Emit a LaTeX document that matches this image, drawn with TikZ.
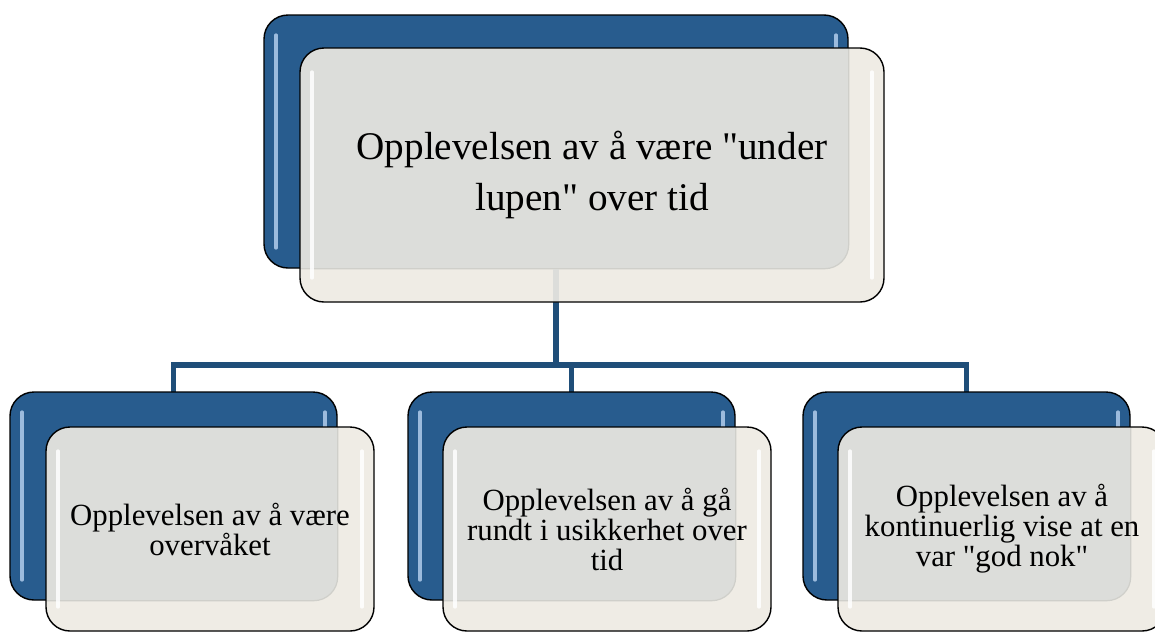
\documentclass[tikz,border=0pt]{standalone}
\usepackage{fontspec}
\setmainfont{Liberation Serif}[Ligatures=TeXOff]
\definecolor{boxblue}{HTML}{285C8E}
\definecolor{hiblue}{HTML}{A9C6E6}
\definecolor{linkblue}{HTML}{1F4E79}
\definecolor{frontbeige}{HTML}{EFECE5}
\definecolor{frontgray}{HTML}{DCDDDA}
\definecolor{overlapedge}{HTML}{CFCFCA}
\begin{document}
\begin{tikzpicture}[x=0.5pt,y=-0.5pt,
  backbox/.style={draw=black, line width=0.7pt, fill=boxblue, rounded corners=12pt, inner sep=0pt,
    path picture={
      \draw[hiblue, line width=1.6pt, line cap=round, opacity=0.9]
        ([xshift=6pt,yshift=-10pt]path picture bounding box.north west) -- ([xshift=6pt,yshift=10pt]path picture bounding box.south west);
      \draw[hiblue, line width=1.6pt, line cap=round, opacity=0.9]
        ([xshift=-6pt,yshift=-10pt]path picture bounding box.north east) -- ([xshift=-6pt,yshift=10pt]path picture bounding box.south east);
    }},
  frontbox/.style={draw=black, line width=0.7pt, fill=frontbeige, rounded corners=12pt, inner sep=0pt, align=center},
  link/.style={draw=linkblue, line width=2.6pt},
  hiline/.style={white, line width=1.6pt, line cap=round, opacity=0.85},
  topfont/.style={font=\fontsize{19.6}{25.5}\selectfont},
  subfont/.style={font=\fontsize{15.4}{15}\selectfont}
]
\useasboundingbox (0,0) rectangle (1155,632);
\fill[white] (0,0) rectangle (1155,632);

% connectors (behind the boxes)
\coordinate (j) at (556,365);
\node[minimum width=292pt, minimum height=126.5pt, inner sep=0pt] (tbpos) at (556,141.5) {};
\node[minimum width=163.5pt, minimum height=104pt, inner sep=0pt] (b1pos) at (173.5,496) {};
\node[minimum width=163.5pt, minimum height=104pt, inner sep=0pt] (b2pos) at (571.5,496) {};
\node[minimum width=163.5pt, minimum height=104pt, inner sep=0pt] (b3pos) at (966.5,496) {};
\draw[link] (tbpos.south) -- (tbpos.south |- j);
\draw[link] (b1pos.north) -- (b1pos.north |- j) -- (b3pos.north |- j) -- (b3pos.north);
\draw[link] (b2pos.north |- j) -- (b2pos.north);

% top group
\node[backbox, minimum width=292pt, minimum height=126.5pt] (tb) at (556,141.5) {};
\node[frontbox, topfont, minimum width=292pt, minimum height=127pt,
  path picture={
    \fill[frontgray, rounded corners=12pt] (tb.south west) rectangle (tb.north east);
    \draw[overlapedge, line width=0.6pt, rounded corners=12pt] (tb.south west) rectangle (tb.north east);
    \draw[frontgray, line width=2.6pt] (tb.south) -- (tbpos.south |- path picture bounding box.south);
    \draw[hiline] ([xshift=6pt,yshift=-12pt]path picture bounding box.north west) -- ([xshift=6pt,yshift=12pt]path picture bounding box.south west);
    \draw[hiline] ([xshift=-6pt,yshift=-12pt]path picture bounding box.north east) -- ([xshift=-6pt,yshift=12pt]path picture bounding box.south east);
  }] (tf) at (592,175) {Opplevelsen av å være "under\\lupen" over tid};

% bottom groups
\node[backbox, minimum width=163.5pt, minimum height=104pt] (b1) at (173.5,496) {};
\node[frontbox, subfont, minimum width=164pt, minimum height=102pt,
  path picture={
    \fill[frontgray, rounded corners=12pt] (b1.south west) rectangle (b1.north east);
    \draw[overlapedge, line width=0.6pt, rounded corners=12pt] (b1.south west) rectangle (b1.north east);
    \draw[hiline] ([xshift=6pt,yshift=-12pt]path picture bounding box.north west) -- ([xshift=6pt,yshift=12pt]path picture bounding box.south west);
    \draw[hiline] ([xshift=-6pt,yshift=-12pt]path picture bounding box.north east) -- ([xshift=-6pt,yshift=12pt]path picture bounding box.south east);
  }] (f1) at (210,529) {Opplevelsen av å være\\overvåket};

\node[backbox, minimum width=163.5pt, minimum height=104pt] (b2) at (571.5,496) {};
\node[frontbox, subfont, minimum width=164pt, minimum height=102pt,
  path picture={
    \fill[frontgray, rounded corners=12pt] (b2.south west) rectangle (b2.north east);
    \draw[overlapedge, line width=0.6pt, rounded corners=12pt] (b2.south west) rectangle (b2.north east);
    \draw[hiline] ([xshift=6pt,yshift=-12pt]path picture bounding box.north west) -- ([xshift=6pt,yshift=12pt]path picture bounding box.south west);
    \draw[hiline] ([xshift=-6pt,yshift=-12pt]path picture bounding box.north east) -- ([xshift=-6pt,yshift=12pt]path picture bounding box.south east);
  }] (f2) at (607,529) {Opplevelsen av å gå\\rundt i usikkerhet over\\tid};

\node[backbox, minimum width=163.5pt, minimum height=104pt] (b3) at (966.5,496) {};
\node[frontbox, subfont, minimum width=164pt, minimum height=102pt,
  path picture={
    \fill[frontgray, rounded corners=12pt] (b3.south west) rectangle (b3.north east);
    \draw[overlapedge, line width=0.6pt, rounded corners=12pt] (b3.south west) rectangle (b3.north east);
    \draw[hiline] ([xshift=6pt,yshift=-12pt]path picture bounding box.north west) -- ([xshift=6pt,yshift=12pt]path picture bounding box.south west);
    \draw[hiline] ([xshift=-6pt,yshift=-12pt]path picture bounding box.north east) -- ([xshift=-6pt,yshift=12pt]path picture bounding box.south east);
  }] (f3) at (1002,529) {Opplevelsen av å\\kontinuerlig vise at en\\var "god nok"};
\end{tikzpicture}
\end{document}
